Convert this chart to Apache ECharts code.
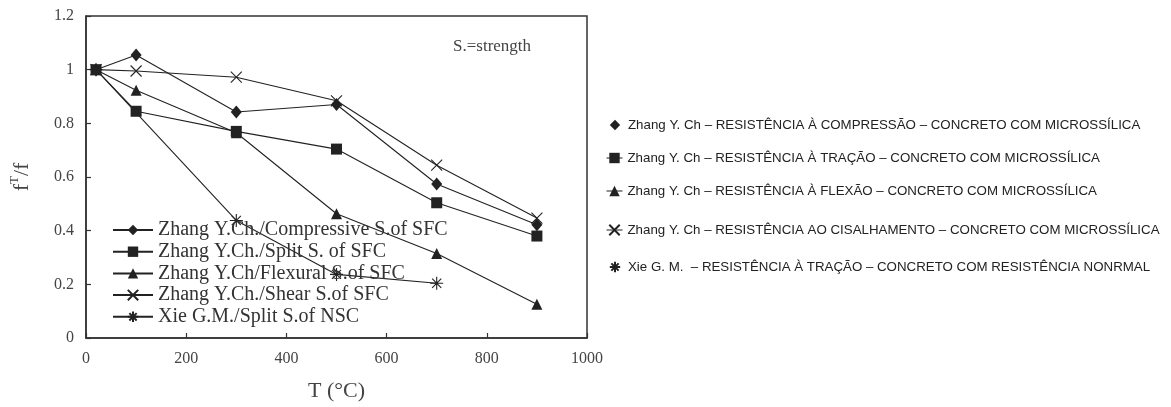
<!DOCTYPE html>
<html>
<head>
<meta charset="utf-8">
<script src="https://cdn.jsdelivr.net/npm/echarts@6/dist/echarts.min.js"></script>
<style>
  html, body { margin: 0; padding: 0; background: #fff; }
  #chart { width: 1171px; height: 407px; }
</style>
</head>
<body>
<div id="chart"></div>
<script>
// Temperature (°C) and relative strength f^T/f
const temps = [20, 100, 300, 500, 700, 900];
const compressiveSFC = [1.0, 1.055, 0.842, 0.87, 0.574, 0.422];
const splitSFC = [1.0, 0.845, 0.77, 0.704, 0.504, 0.38];
const flexuralSFC = [1.0, 0.923, 0.765, 0.463, 0.315, 0.126];
const shearSFC = [1.0, 0.995, 0.972, 0.884, 0.644, 0.447];
const xieTemps = [20, 300, 500, 700];
const splitNSC = [1.0, 0.438, 0.237, 0.204];

const seriesNames = [
  'Zhang Y.Ch./Compressive S.of SFC',
  'Zhang Y.Ch./Split S. of SFC',
  'Zhang Y.Ch/Flexural S.of SFC',
  'Zhang Y.Ch./Shear S.of SFC',
  'Xie G.M./Split S.of NSC'
];
const ptLabels = [
  'Zhang Y. Ch – RESISTÊNCIA À COMPRESSÃO – CONCRETO COM MICROSSÍLICA',
  'Zhang Y. Ch – RESISTÊNCIA À TRAÇÃO – CONCRETO COM MICROSSÍLICA',
  'Zhang Y. Ch – RESISTÊNCIA À FLEXÃO – CONCRETO COM MICROSSÍLICA',
  'Zhang Y. Ch – RESISTÊNCIA AO CISALHAMENTO – CONCRETO COM MICROSSÍLICA',
  'Xie G. M.  – RESISTÊNCIA À TRAÇÃO – CONCRETO COM RESISTÊNCIA NONRMAL'
];

const INK = '#222';
const CROSS = 'path://M0,0L10,10M10,0L0,10';
const STAR = 'path://M5,0L5,10M0,5L10,5M1.5,1.5L8.5,8.5M8.5,1.5L1.5,8.5';

function pairs(xs, ys) { return xs.map((x, i) => [x, ys[i]]); }

function lineSeries(name, data, symbol, size, stroked) {
  return {
    name, type: 'line', data, symbol, symbolSize: size,
    lineStyle: { color: INK, width: 1.1 },
    itemStyle: stroked
      ? { color: INK, borderColor: INK, borderWidth: 1.1 }
      : { color: INK, borderWidth: 0 },
    emphasis: { disabled: true },
    animation: false
  };
}

const serif = 'Liberation Serif';
const rightRows = [125, 158, 191, 230, 267];
const rightLegends = seriesNames.map((n, i) => ({
  data: [n],
  orient: 'vertical',
  left: 606,
  top: rightRows[i] - 6.5,
  padding: 0,
  itemWidth: 16,
  itemHeight: 13,
  itemGap: 0,
  selectedMode: false,
  formatter: () => ptLabels[i],
  lineStyle: (i === 0 || i === 4) ? { color: 'rgba(0,0,0,0)' } : { width: 1 },
  textStyle: { fontFamily: 'Liberation Sans', fontSize: 13.3, color: '#222' }
}));

const option = {
  backgroundColor: '#fff',
  animation: false,
  grid: {
    left: 86, right: 584, top: 16, bottom: 67,
    show: true, borderColor: '#333', borderWidth: 1.5, backgroundColor: 'transparent'
  },
  xAxis: {
    type: 'value', min: 0, max: 1000, interval: 200,
    name: 'T (°C)', nameLocation: 'middle', nameGap: 42,
    nameTextStyle: { fontFamily: serif, fontSize: 22, color: '#444' },
    axisLine: { show: true, lineStyle: { color: '#333', width: 1.5 } },
    axisTick: { show: true, inside: true, length: 5, lineStyle: { color: '#333', width: 1.2 } },
    axisLabel: { fontFamily: serif, fontSize: 16, color: '#444', margin: 13, formatter: v => String(v) },
    splitLine: { show: false }
  },
  yAxis: {
    type: 'value', min: 0, max: 1.2, interval: 0.2,
    name: '{f|f}{t|T}{f|/f}', nameLocation: 'middle', nameGap: 50, nameRotate: 90,
    nameTextStyle: {
      fontFamily: serif, color: '#444',
      rich: {
        f: { fontFamily: serif, fontSize: 22, lineHeight: 28, color: '#444' },
        t: { fontFamily: serif, fontSize: 13, lineHeight: 13, verticalAlign: 'top', color: '#444' }
      }
    },
    axisLine: { show: true, lineStyle: { color: '#333', width: 1.5 } },
    axisTick: { show: true, inside: true, length: 5, lineStyle: { color: '#333', width: 1.2 } },
    axisLabel: { fontFamily: serif, fontSize: 16, color: '#444', margin: 12 },
    splitLine: { show: false }
  },
  legend: [{
    data: seriesNames,
    orient: 'vertical',
    left: 112, top: 220, padding: 0,
    itemWidth: 40, itemHeight: 13, itemGap: 1.7,
    selectedMode: false,
    textStyle: { fontFamily: serif, fontSize: 20, lineHeight: 20, color: '#333' }
  }].concat(rightLegends),
  graphic: [{
    type: 'text', left: 453, top: 38,
    style: { text: 'S.=strength', fontFamily: serif, fontSize: 17, fill: '#444' }
  }],
  series: [
    lineSeries(seriesNames[0], pairs(temps, compressiveSFC), 'diamond', [11, 13], false),
    lineSeries(seriesNames[1], pairs(temps, splitSFC), 'rect', 11, false),
    lineSeries(seriesNames[2], pairs(temps, flexuralSFC), 'triangle', 11, false),
    lineSeries(seriesNames[3], pairs(temps, shearSFC), CROSS, 11, true),
    lineSeries(seriesNames[4], pairs(xieTemps, splitNSC), STAR, 13, true)
  ]
};

const chart = echarts.init(document.getElementById('chart'), null, { renderer: 'canvas' });
chart.setOption(option);
</script>
</body>
</html>
